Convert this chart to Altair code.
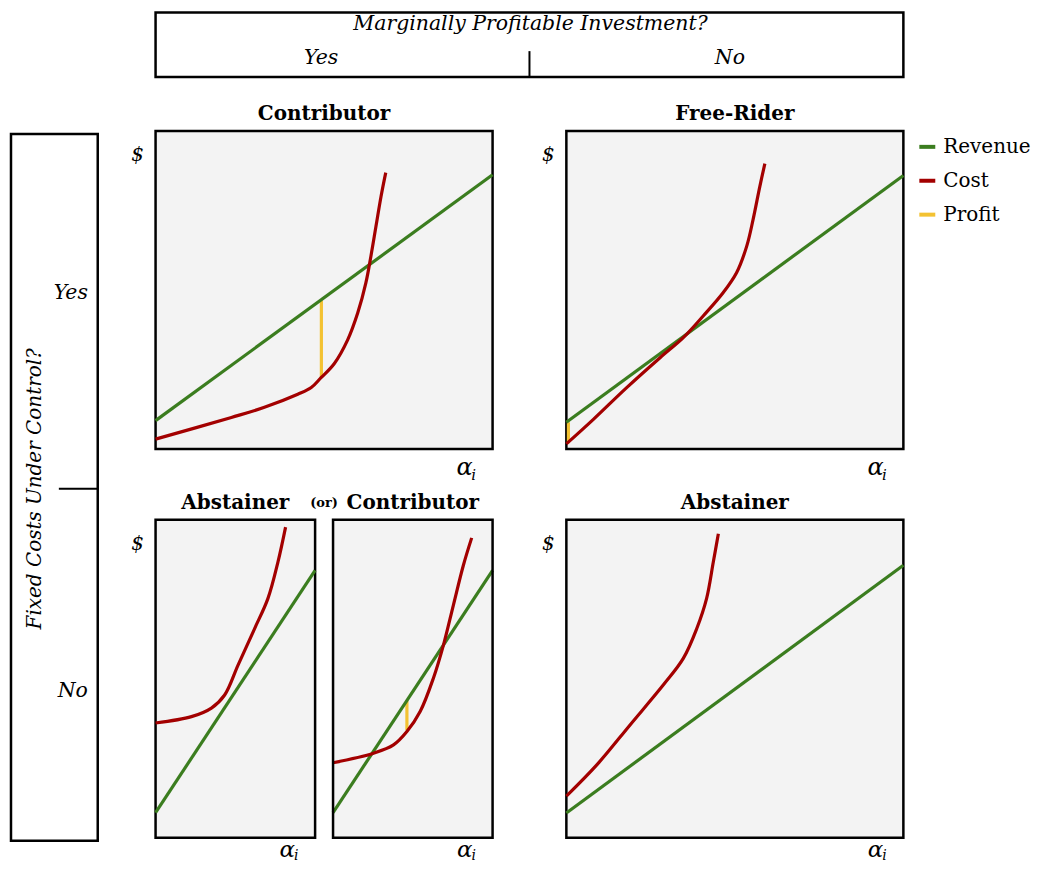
import altair as alt
import pandas as pd

FONT = "DejaVu Serif"
SERIES = ["Revenue", "Cost", "Profit"]
COLORS = ["#3b7d1f", "#a30000", "#f3c232"]

HEADER_TITLE = "Marginally Profitable Investment?"
HEADER_COLS = ["Yes", "No"]
SIDE_TITLE = "Fixed Costs Under Control?"
SIDE_ROWS = ["Yes", "No"]
PANEL_TITLES = ["Contributor", "Free-Rider", "Abstainer", "Contributor", "Abstainer"]
OR_LABEL = "(or)"
Y_LABEL = "$"
X_LABEL = "α"
X_SUB = "i"

# ---- Top-left: Contributor ----
tl_rev_x = [0.0, 1.0]
tl_rev_y = [0.089, 0.862]
tl_cost_x = [0.0, 0.225, 0.323, 0.422, 0.462, 0.491, 0.53, 0.57, 0.6, 0.624, 0.639, 0.654, 0.669, 0.683]
tl_cost_y = [0.031, 0.099, 0.131, 0.172, 0.193, 0.224, 0.268, 0.343, 0.428, 0.522, 0.606, 0.70, 0.794, 0.869]
tl_prof_x = [0.492, 0.492]
tl_prof_y = [0.226, 0.467]

# ---- Top-right: Free-Rider ----
tr_rev_x = [0.0, 1.0]
tr_rev_y = [0.084, 0.86]
tr_cost_x = [0.0, 0.081, 0.179, 0.278, 0.347, 0.406, 0.465, 0.505, 0.535, 0.554, 0.574, 0.589]
tr_cost_y = [0.016, 0.094, 0.193, 0.287, 0.35, 0.418, 0.491, 0.554, 0.637, 0.721, 0.825, 0.897]
tr_prof_x = [0.006, 0.006]
tr_prof_y = [0.018, 0.084]

# ---- Bottom-left 1: Abstainer ----
bl1_rev_x = [0.0, 1.0]
bl1_rev_y = [0.079, 0.841]
bl1_cost_x = [0.0, 0.225, 0.35, 0.433, 0.517, 0.621, 0.704, 0.767, 0.815]
bl1_cost_y = [0.361, 0.381, 0.408, 0.449, 0.543, 0.658, 0.752, 0.867, 0.977]

# ---- Bottom-left 2: Contributor ----
bl2_rev_x = [0.0, 1.0]
bl2_rev_y = [0.079, 0.841]
bl2_cost_x = [0.0, 0.254, 0.379, 0.463, 0.546, 0.629, 0.692, 0.754, 0.817, 0.869]
bl2_cost_y = [0.236, 0.266, 0.292, 0.334, 0.397, 0.502, 0.606, 0.731, 0.857, 0.943]
bl2_prof_x = [0.463, 0.463]
bl2_prof_y = [0.338, 0.430]

# ---- Bottom-right: Abstainer ----
br_rev_x = [0.0, 1.0]
br_rev_y = [0.078, 0.857]
br_cost_x = [0.0, 0.091, 0.189, 0.288, 0.347, 0.387, 0.416, 0.436, 0.451]
br_cost_y = [0.131, 0.23, 0.355, 0.481, 0.564, 0.658, 0.752, 0.867, 0.956]


def make_df(rev_x, rev_y, cost_x, cost_y, prof_x=None, prof_y=None):
    rows = []
    parts = [("Revenue", rev_x, rev_y), ("Cost", cost_x, cost_y)]
    if prof_x is not None:
        parts.append(("Profit", prof_x, prof_y))
    for name, xs, ys in parts:
        for i, (a, b) in enumerate(zip(xs, ys)):
            rows.append({"series": name, "x": a, "y": b, "o": i})
    return pd.DataFrame(rows)


color = alt.Color(
    "series:N",
    scale=alt.Scale(domain=SERIES, range=COLORS),
    legend=alt.Legend(
        title=None, orient="none", legendX=764, legendY=6,
        symbolType="stroke", symbolStrokeWidth=4, symbolSize=256,
        labelFont=FONT, labelFontSize=20, labelOffset=6, rowPadding=14,
        padding=0, labelColor="black",
    ),
)


def one():
    return pd.DataFrame({"k": [0]})


def text_layer(label, x, y, size, style="italic", weight="normal", angle=0):
    return alt.Chart(pd.DataFrame({"t": [label]})).mark_text(
        font=FONT, fontSize=size, fontStyle=style, fontWeight=weight,
        align="center", baseline="middle", color="black", angle=angle,
    ).encode(x=alt.value(x), y=alt.value(y), text="t:N")


def box(x, x2, y, y2, fill="white", stroke=True):
    kw = dict(stroke="black", strokeWidth=2.5) if stroke else dict(strokeWidth=0)
    if fill is None:
        mk = alt.Chart(one()).mark_rect(fillOpacity=0, **kw)
    else:
        mk = alt.Chart(one()).mark_rect(fill=fill, **kw)
    return mk.encode(x=alt.value(x), x2=alt.value(x2), y=alt.value(y), y2=alt.value(y2))


def rule(x, x2, y, y2):
    return alt.Chart(one()).mark_rule(color="black", strokeWidth=2).encode(
        x=alt.value(x), x2=alt.value(x2), y=alt.value(y), y2=alt.value(y2)
    )


def curve_layers(df, xrange=None):
    sc = dict(domain=[0, 1], nice=False, zero=False)
    if xrange is not None:
        sc["range"] = xrange
    xe = alt.X("x:Q", scale=alt.Scale(**sc), axis=None)
    ye = alt.Y("y:Q", scale=alt.Scale(domain=[0, 1], nice=False, zero=False), axis=None)
    base = alt.Chart(df).encode(x=xe, y=ye, color=color, detail="series:N", order="o:Q")
    present = set(df["series"])
    out = []
    for s in ["Profit", "Revenue", "Cost"]:
        if s in present:
            out.append(
                base.transform_filter(alt.datum.series == s).mark_line(
                    strokeWidth=3.2, strokeCap="butt",
                    interpolate="catmull-rom" if s == "Cost" else "linear",
                )
            )
    return out


def labels(x0, w, h, title, dollar=True, low=False):
    out = [text_layer(title, x0 + w / 2, -17, 20, style="normal", weight="bold")]
    if dollar:
        out.append(text_layer(Y_LABEL, x0 - 18, 24, 20))
    if low:
        out.append(text_layer(X_LABEL, x0 + w - 28, h + 12, 23))
        out.append(text_layer(X_SUB, x0 + w - 19, h + 18, 14))
    else:
        out.append(text_layer(X_LABEL, x0 + w - 28, h + 19, 24))
        out.append(text_layer(X_SUB, x0 + w - 19, h + 26, 15))
    return out


W, H = 338, 319
WS = 160
X2 = 178  # left edge of the second narrow panel

# header box and side box drawn around the top-left panel (outside its frame)
header_marks = [
    box(0, 750, -118.75, -54),
    text_layer(HEADER_TITLE, 376, -107, 20.5),
    text_layer(HEADER_COLS[0], 166, -73, 20.5),
    text_layer(HEADER_COLS[1], 576, -73, 20.5),
    rule(375, 375, -80, -54),
]
side_marks = [
    box(-145, -58, 3, 712),
    text_layer(SIDE_TITLE, -121, 359, 20, angle=270),
    text_layer(SIDE_ROWS[0], -85, 163, 20.5),
    text_layer(SIDE_ROWS[1], -83, 562, 20.5),
    rule(-97, -58, 359, 359),
]

tl = alt.layer(
    *header_marks, *side_marks,
    *curve_layers(make_df(tl_rev_x, tl_rev_y, tl_cost_x, tl_cost_y, tl_prof_x, tl_prof_y)),
    *labels(0, W, H, PANEL_TITLES[0]),
).properties(width=W, height=H)

tr = alt.layer(
    *curve_layers(make_df(tr_rev_x, tr_rev_y, tr_cost_x, tr_cost_y, tr_prof_x, tr_prof_y)),
    *labels(0, W, H, PANEL_TITLES[1]),
).properties(width=W, height=H)

bl = alt.layer(
    box(X2, X2 + WS, 0, H, fill="#f3f3f3", stroke=False),
    *curve_layers(make_df(bl1_rev_x, bl1_rev_y, bl1_cost_x, bl1_cost_y)),
    *curve_layers(make_df(bl2_rev_x, bl2_rev_y, bl2_cost_x, bl2_cost_y, bl2_prof_x, bl2_prof_y),
                  xrange=[X2, X2 + WS]),
    box(X2, X2 + WS, 0, H, fill=None),
    *labels(0, WS, H, PANEL_TITLES[2], low=True),
    *labels(X2, WS, H, PANEL_TITLES[3], dollar=False, low=True),
    text_layer(OR_LABEL, 169, -17, 13, style="normal", weight="bold"),
).resolve_scale(x="independent").properties(width=WS, height=H)

br = alt.layer(
    *curve_layers(make_df(br_rev_x, br_rev_y, br_cost_x, br_cost_y)),
    *labels(0, W, H, PANEL_TITLES[4], low=True),
).properties(width=W, height=H)

grid = alt.concat(
    tl, tr, bl, br,
    columns=2,
    spacing={"row": 71, "column": 74},
    bounds="flush",
)

chart = grid.properties(
    padding={"left": 0, "top": 0, "right": 0, "bottom": 0},
    background="white",
).configure_view(
    stroke="black", strokeWidth=2.5, fill="#f3f3f3"
)

chart.save("out.html", embed_options={"renderer": "svg", "actions": False})
